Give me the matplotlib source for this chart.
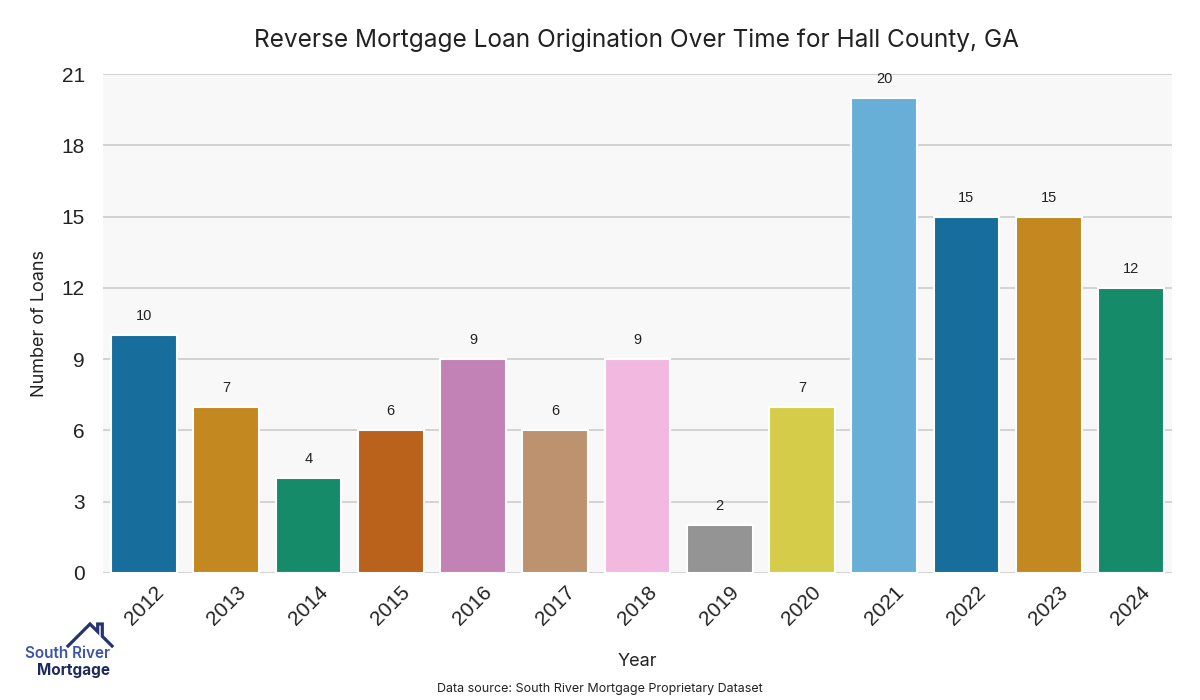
import matplotlib
matplotlib.use("Agg")
import matplotlib.pyplot as plt
from matplotlib.lines import Line2D
import seaborn as sns

years = ["2012", "2013", "2014", "2015", "2016", "2017", "2018", "2019", "2020", "2021", "2022", "2023", "2024"]
loans = [10, 7, 4, 6, 9, 6, 9, 2, 7, 20, 15, 15, 12]
y_ticks = [0, 3, 6, 9, 12, 15, 18, 21]

title = "Reverse Mortgage Loan Origination Over Time for Hall County, GA"
source = "Data source: South River Mortgage Proprietary Dataset"

base = sns.color_palette("colorblind", 10)
colors = [sns.desaturate(base[i % 10], 0.75) for i in range(len(years))]

fig = plt.figure(figsize=(12, 7), dpi=100)
ax = fig.add_axes([103 / 1200, 1 - 573 / 700, (1172 - 103) / 1200, (573 - 74) / 700])
ax.set_facecolor("#f8f8f8")

x = list(range(len(years)))
bars = ax.bar(x, loans, width=0.8, color=colors, edgecolor="white", linewidth=1.5, zorder=2)
for xi, v in zip(x, loans):
    ax.annotate(str(v), (xi, v), xytext=(0, 19), textcoords="offset pixels",
                ha="center", va="center", fontsize=10.5, family="Liberation Sans", color="#222222")

ax.set_xlim(-0.5, len(years) - 0.5)
ax.set_ylim(0, 21)
ax.set_yticks(y_ticks)
ax.set_xticks(x)
ax.set_xticklabels(years, rotation=45, ha="center", fontsize=15, family="Liberation Sans", color="#222222")
ax.set_yticklabels([str(t) for t in y_ticks], fontsize=15, family="Liberation Sans", color="#222222")
ax.tick_params(axis="x", length=0, pad=7)
ax.tick_params(axis="y", length=0, pad=13)
ax.grid(axis="y", color="#cccccc", linewidth=1.2, zorder=0)
ax.set_axisbelow(True)
for s in ax.spines.values():
    s.set_visible(False)

ax.set_ylabel("Number of Loans", fontsize=13, family="Inter", color="#222222", labelpad=10)
fig.text(637 / 1200, 1 - 662 / 700, "Year", ha="center", va="center", fontsize=13, family="Inter", color="#222222")
fig.text(600 / 1200, 1 - 689 / 700, source, ha="center", va="center", fontsize=9, family="Inter", color="#222222")
fig.text(637 / 1200, 1 - 40 / 700, title, ha="center", va="center", fontsize=17.6, family="Inter", color="#222222")

# logo
pts = [(68, 646), (90, 624), (97.7, 631.7), (97.7, 624), (102.3, 624), (102.3, 636.3), (112, 646)]
fig.add_artist(Line2D([p[0] / 1200 for p in pts], [1 - p[1] / 700 for p in pts],
                      transform=fig.transFigure, color="#243470", linewidth=2.3,
                      solid_joinstyle="miter"))
fig.text(110 / 1200, 1 - 654 / 700, "South River", ha="right", va="center", fontsize=11,
         family="Inter", fontweight="semibold", color="#3d55a8")
fig.text(110 / 1200, 1 - 670 / 700, "Mortgage", ha="right", va="center", fontsize=11,
         family="Inter", fontweight="bold", color="#1f2a5c")

fig.savefig("out.png", dpi=100)
